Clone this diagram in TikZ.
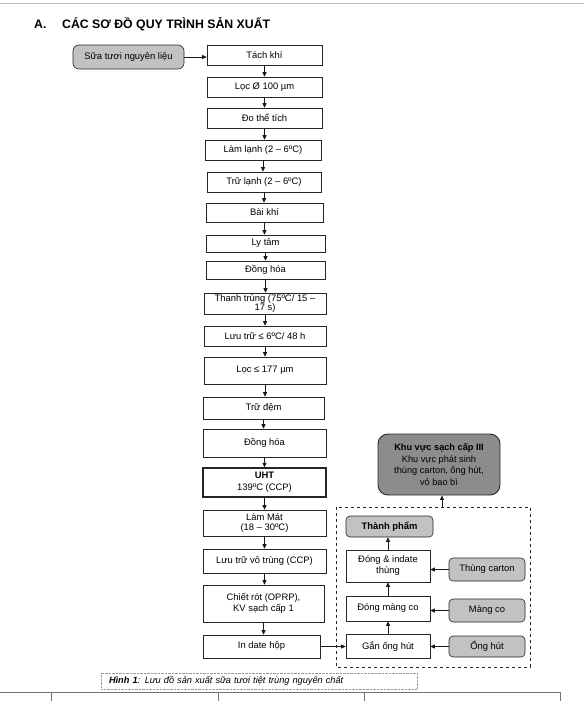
\documentclass[tikz,border=0pt]{standalone}
\usepackage{fontspec}
\setmainfont{Liberation Sans}
\usetikzlibrary{arrows.meta}
\begin{document}
\begin{tikzpicture}[x=1pt,y=-1pt,
  box/.style={draw=black!85, fill=white, line width=0.6pt, align=center,
    font=\fontsize{9.4}{10.5}\selectfont, inner sep=1pt},
  gbox/.style={box, fill=black!24, rounded corners=4pt},
  arr/.style={-{Triangle[length=4.5pt,width=4pt]}, line width=0.8pt, black!90},
  titlefont/.style={font=\bfseries\fontsize{12.3}{14}\selectfont}]
\useasboundingbox (0,0) rectangle (584,701);
\draw[black!25, line width=1pt] (0,4) -- (584,4);
\node[titlefont, anchor=west, inner sep=0] (ta) at (34,24) {A.};
\node[titlefont, anchor=west, inner sep=0] (tt) at (62,24) {CÁC SƠ ĐỒ QUY TRÌNH SẢN XUẤT};

% main column
\node[gbox, rounded corners=6pt, minimum width=111, minimum height=24] (src) at (128.5,57) {Sữa tươi nguyên liệu};
\node[box, minimum width=115, minimum height=20] (n1) at (264.5,55) {Tách khí};
\node[box, minimum width=115, minimum height=20] (n2) at (264.5,87) {Lọc Ø 100 µm};
\node[box, minimum width=115, minimum height=20] (n3) at (264.5,118) {Đo thể tích};
\node[box, minimum width=116, minimum height=20] (n4) at (263,150) {Làm lạnh (2 – 6ºC)};
\node[box, minimum width=114, minimum height=20] (n5) at (264,182) {Trữ lạnh (2 – 6ºC)};
\node[box, minimum width=117, minimum height=19] (n6) at (264.5,212.5) {Bài khí};
\node[box, minimum width=119, minimum height=17] (n7) at (265.5,243.5) {Ly tâm};
\node[box, minimum width=119, minimum height=18] (n8) at (265.5,270) {Đồng hóa};
\node[box, minimum width=122, minimum height=21, font=\fontsize{9.4}{9.5}\selectfont] (n9) at (265,303.5) {Thanh trùng (75ºC/ 15 –\\17 s)};
\node[box, minimum width=122, minimum height=20] (n10) at (265,336) {Lưu trữ ≤ 6ºC/ 48 h};
\node[box, minimum width=122, minimum height=27] (n11) at (265,370.5) {Lọc ≤ 177 µm};
\node[box, minimum width=121, minimum height=22] (n12) at (263.5,408) {Trữ đệm};
\node[box, minimum width=123, minimum height=28] (n13) at (264.5,443) {Đồng hóa};
\node[box, line width=1.4pt, minimum width=123, minimum height=29, font=\fontsize{9.4}{12}\selectfont] (n14) at (264.5,482.5) {\textbf{UHT}\\139ºC (CCP)};
\node[box, minimum width=123, minimum height=26, font=\fontsize{9.4}{10}\selectfont] (n15) at (264.5,523) {Làm Mát\\(18 – 30ºC)};
\node[box, minimum width=123, minimum height=24] (n16) at (264.5,561) {Lưu trữ vô trùng (CCP)};
\node[box, minimum width=121, minimum height=37, font=\fontsize{9.4}{11}\selectfont] (n17) at (263.5,603.5) {Chiết rót (OPRP),\\KV sạch cấp 1};
\node[box, minimum width=117, minimum height=23] (n18) at (261.5,646.5) {In date hộp};

\draw[arr] (src.east) -- (src.east -| n1.west);
\foreach \a/\b in {n1/n2,n2/n3,n3/n4,n4/n5,n5/n6,n6/n7,n7/n8,n8/n9,n9/n10,n10/n11,n11/n12,n12/n13,n13/n14,n14/n15,n15/n16,n16/n17}
  \draw[arr] (\a.south) -- (\a.south |- \b.north);
\draw[arr] (n17.south) -- (n17.south |- n18.north);

% right side
\draw[black!85, dashed, line width=0.9pt] (336,507) rectangle (530,667);
\coordinate (dtop) at (442,507);
\node[box, fill=black!45, rounded corners=10pt, line width=0.9pt, minimum width=122, minimum height=61, font=\fontsize{9.2}{11.5}\selectfont] (khu) at (439,464.5) {\textbf{Khu vực sạch cấp III}\\Khu vực phát sinh\\thùng carton, ống hút,\\vỏ bao bì};
\node[gbox, minimum width=87, minimum height=21, font=\bfseries\fontsize{9.4}{10.5}\selectfont] (tp) at (389.5,526.5) {Thành phẩm};
\node[box, minimum width=84, minimum height=32, font=\fontsize{9.4}{11}\selectfont] (dt) at (388,566) {Đóng \& indate\\thùng};
\node[box, minimum width=84, minimum height=25] (dm) at (388,608.5) {Đóng màng co};
\node[box, minimum width=84, minimum height=24] (go) at (388,646) {Gắn ống hút};
\node[gbox, minimum width=76, minimum height=23] (tc) at (487,569.5) {Thùng carton};
\node[gbox, minimum width=76, minimum height=23] (mc) at (487,610.5) {Màng co};
\node[gbox, minimum width=76, minimum height=21] (oh) at (487,646.5) {Ống hút};

\draw[arr] (dtop) -- (dtop |- khu.south);
\draw[arr] (go.north) -- (go.north |- dm.south);
\draw[arr] (dm.north) -- (dm.north |- dt.south);
\draw[arr] (dt.north) -- (dt.north |- tp.south);
\draw[arr] (tc.west) -- (tc.west -| dt.east);
\draw[arr] (mc.west) -- (mc.west -| dm.east);
\draw[arr] (oh.west) -- (oh.west -| go.east);
\draw[arr] (n18.east) -- (n18.east -| go.west);

% caption
\node[draw=black!40, densely dotted, minimum width=316, minimum height=16, text width=300, align=left, inner sep=0, font=\itshape\fontsize{9.2}{10.5}\selectfont] (cap) at (259,681) {\textbf{Hình 1}: Lưu đồ sản xuất sữa tươi tiệt trùng nguyên chất};

% table edge
\draw[black!55, line width=0.6pt] (0,692) -- (560,692);
\foreach \xx in {51,218,364,560} \draw[black!55, line width=0.6pt] (\xx,692) -- (\xx,701);
\end{tikzpicture}
\end{document}
